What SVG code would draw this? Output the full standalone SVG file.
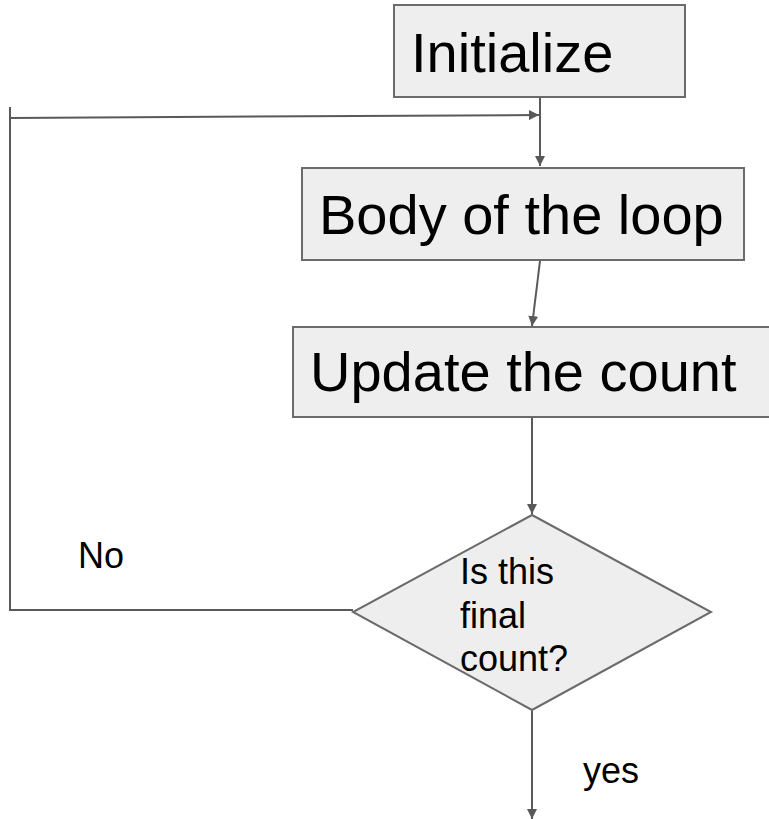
<svg xmlns="http://www.w3.org/2000/svg" width="769" height="819" viewBox="0 0 769 819">
  <style>
    .box { fill: #eeeeee; stroke: #6b6b6b; stroke-width: 2; }
    .big { font-family: "Liberation Sans", Arial, sans-serif; font-size: 56px; fill: #000; }
    .small { font-family: "Liberation Sans", Arial, sans-serif; font-size: 36px; fill: #000; }
    .link { fill: none; stroke: #595959; stroke-width: 2; }
  </style>
  <defs>
    <marker id="arrow" viewBox="0 0 10 10" refX="10" refY="5" markerWidth="5" markerHeight="5" orient="auto" markerUnits="strokeWidth">
      <path d="M0,0 L10,5 L0,10 Z" fill="#595959"/>
    </marker>
  </defs>

  <rect width="769" height="819" fill="#ffffff"/>

  <g id="connectors">
    <!-- Initialize -> Body -->
    <line class="link" x1="540" y1="97" x2="540" y2="166" marker-end="url(#arrow)"/>
    <!-- Body -> Update -->
    <line class="link" x1="540" y1="261" x2="532" y2="326" marker-end="url(#arrow)"/>
    <!-- Update -> decision -->
    <line class="link" x1="532" y1="418" x2="532" y2="514" marker-end="url(#arrow)"/>
    <!-- No: loop back -->
    <polyline class="link" points="353,610 10,610 10,107"/>
    <line class="link" x1="10" y1="118" x2="539" y2="115" marker-end="url(#arrow)"/>
    <!-- yes -->
    <line class="link" x1="532" y1="711" x2="532" y2="819" marker-end="url(#arrow)"/>
  </g>

  <g id="initialize">
    <rect class="box" x="394" y="5" width="291" height="92"/>
    <text class="big" x="411" y="72">Initialize</text>
  </g>

  <g id="body">
    <rect class="box" x="302" y="168" width="442" height="92"/>
    <text class="big" x="319" y="234">Body of the loop</text>
  </g>

  <g id="update">
    <rect class="box" x="293" y="327" width="480" height="90"/>
    <text class="big" x="310" y="391">Update the count</text>
  </g>

  <g id="decision">
    <polygon class="box" points="532,515 711,612 532,710 353,612"/>
    <text class="small" x="460" y="584">Is this</text>
    <text class="small" x="460" y="628">final</text>
    <text class="small" x="460" y="671">count?</text>
  </g>

  <g id="label-no">
    <text class="small" x="78" y="568">No</text>
  </g>

  <g id="label-yes">
    <text class="small" x="583" y="783">yes</text>
  </g>
</svg>
